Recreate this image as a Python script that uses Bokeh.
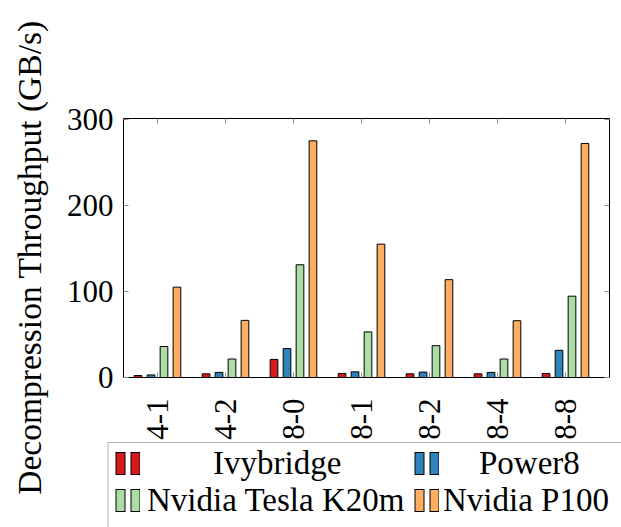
import math
from bokeh.plotting import figure
from bokeh.models import (ColumnDataSource, Range1d, FixedTicker, LinearAxis,
                          Legend, LegendItem, BoxAnnotation, Label,
                          CustomJSTickFormatter)
from bokeh.embed import file_html
from bokeh.resources import INLINE

categories = ["4-1", "4-2", "8-0", "8-1", "8-2", "8-4", "8-8"]
series_names = ["Ivybridge", "Power8", "Nvidia Tesla K20m", "Nvidia P100"]
ivybridge = [2.3, 4.3, 21.0, 4.7, 4.3, 4.3, 4.7]
power8 = [3.0, 5.9, 33.6, 6.6, 6.3, 5.9, 31.6]
k20m = [36.0, 21.5, 131.0, 53.0, 37.0, 21.5, 94.5]
p100 = [105.0, 66.4, 275.0, 155.0, 113.7, 66.0, 272.0]
y_ticks = [0, 100, 200, 300]
y_title = "Decompression Throughput (GB/s)"
colors = ["#d7191c", "#2b83ba", "#abdda4", "#fdae61"]

FONT = "Liberation Serif"
# visible axis box
X_LO, X_HI = -0.5, 6.647
Y_LO, Y_HI = 0, 301
# the frame covers the whole canvas so that the labels, the title and the
# legend can sit around the axis box without being clipped
p = figure(width=621, height=527, output_backend="svg", toolbar_location=None,
           x_range=Range1d(-2.3088, 6.8235), y_range=Range1d(-174.3, 438.1),
           min_border_left=0, min_border_right=0, min_border_top=0,
           min_border_bottom=0)
p.xgrid.visible = False
p.ygrid.visible = False
p.outline_line_color = None
p.background_fill_color = "white"
p.border_fill_color = "white"

xs = list(range(len(categories)))
series = [ivybridge, power8, k20m, p100]
offsets = [-1.5, -0.5, 0.5, 1.5]
step = 0.191
bar_w = 0.113
for name, vals, col, off in zip(series_names, series, colors, offsets):
    src = ColumnDataSource(dict(x=[x + off * step for x in xs], top=vals))
    p.vbar(x="x", top="top", width=bar_w, bottom=0, source=src,
           fill_color=col, line_color="black", line_width=1)

def style_axis(ax, labels=True):
    ax.major_tick_in = 5
    ax.major_tick_out = 0
    ax.minor_tick_in = 0
    ax.minor_tick_out = 0
    ax.major_tick_line_color = "#8c8c8c"
    ax.axis_line_color = "black"
    if labels:
        ax.major_label_text_font = FONT
        ax.major_label_text_font_size = "31px"
        ax.major_label_text_color = "black"
    else:
        ax.formatter = CustomJSTickFormatter(code="return ''")
        ax.major_label_standoff = 0

xa = p.xaxis[0]
xa.ticker = FixedTicker(ticks=xs)
xa.bounds = (X_LO, X_HI)
xa.major_label_overrides = {i: c for i, c in enumerate(categories)}
xa.major_label_orientation = math.pi / 2
xa.major_label_standoff = 21
xa.fixed_location = Y_LO
style_axis(xa)

ya = p.yaxis[0]
ya.ticker = FixedTicker(ticks=y_ticks)
ya.bounds = (Y_LO, Y_HI)
ya.fixed_location = X_LO
ya.major_label_standoff = 10
style_axis(ya)

top_ax = LinearAxis(ticker=FixedTicker(ticks=xs), bounds=(X_LO, X_HI),
                    fixed_location=Y_HI)
style_axis(top_ax, labels=False)
p.add_layout(top_ax, "above")
right_ax = LinearAxis(ticker=FixedTicker(ticks=y_ticks), bounds=(Y_LO, Y_HI),
                      fixed_location=X_HI)
style_axis(right_ax, labels=False)
p.add_layout(right_ax, "right")

# y-axis title
p.add_layout(Label(x=29, y=270, x_units="screen", y_units="screen",
                   text=y_title, angle=math.pi / 2, text_align="center",
                   text_baseline="middle", text_font=FONT,
                   text_font_size="33.5px", text_color="black"))

# ---------------- legend ----------------
p.add_layout(BoxAnnotation(left=107.5, right=2000, bottom=-100, top=85,
                           left_units="screen", right_units="screen",
                           bottom_units="screen", top_units="screen",
                           fill_color=None, line_color="black", line_width=1))

def swatch(col):
    # legend-only renderers (their single point lies outside the view)
    off = ColumnDataSource(dict(x=[-50], y=[-5000]))
    outer = p.line(x="x", y="y", source=off, line_color="black",
                   line_width=23, line_dash="10 5", line_cap="butt")
    inner = p.line(x="x", y="y", source=off, line_color=col,
                   line_width=21, line_dash="8 7", line_dash_offset=14,
                   line_cap="butt")
    return [outer, inner]

# (glyph left, legend bottom, label standoff), frame pixels
places = [(115, 42, 73), (414, 42, 40), (115, 5, 7), (414, 5, 4)]
for name, col, (lx, by, so) in zip(series_names, colors, places):
    lg = Legend(items=[LegendItem(label=name, renderers=swatch(col))],
                location=(lx, by), orientation="vertical")
    lg.label_text_font = FONT
    lg.label_text_font_size = "33px"
    lg.label_text_color = "black"
    lg.glyph_width = 25
    lg.glyph_height = 44
    lg.label_standoff = so
    lg.padding = 0
    lg.margin = 0
    lg.spacing = 0
    lg.border_line_color = None
    lg.background_fill_color = None
    lg.background_fill_alpha = 0
    p.add_layout(lg, "center")

open("out.html", "w").write(file_html(p, INLINE))
